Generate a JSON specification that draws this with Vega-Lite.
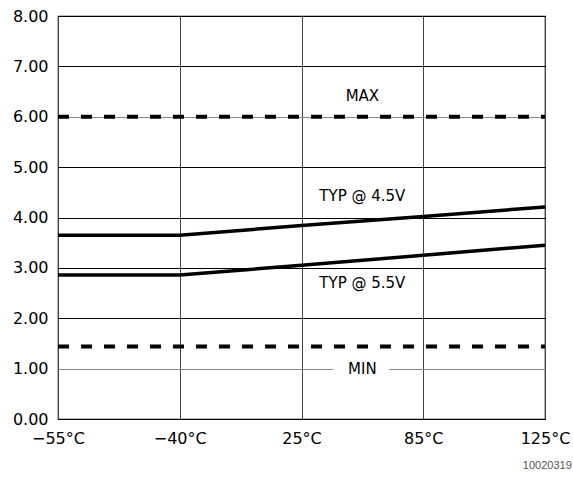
{
  "$schema": "https://vega.github.io/schema/vega-lite/v6.json",
  "width": 487,
  "height": 403,
  "autosize": "none",
  "padding": {"left": 58, "top": 16, "right": 28, "bottom": 61},
  "background": "white",
  "config": {
    "view": {"stroke": "black", "strokeWidth": 1.2},
    "font": "DejaVu Sans"
  },
  "datasets": {
    "curves": [
      {"slot": 0, "v": 3.65, "series": "TYP @ 4.5V"},
      {"slot": 1, "v": 3.65, "series": "TYP @ 4.5V"},
      {"slot": 2, "v": 3.84, "series": "TYP @ 4.5V"},
      {"slot": 3, "v": 4.02, "series": "TYP @ 4.5V"},
      {"slot": 4, "v": 4.21, "series": "TYP @ 4.5V"},
      {"slot": 0, "v": 2.86, "series": "TYP @ 5.5V"},
      {"slot": 1, "v": 2.86, "series": "TYP @ 5.5V"},
      {"slot": 2, "v": 3.05, "series": "TYP @ 5.5V"},
      {"slot": 3, "v": 3.25, "series": "TYP @ 5.5V"},
      {"slot": 4, "v": 3.45, "series": "TYP @ 5.5V"}
    ],
    "limits": [
      {"slot": 0, "v": 6.0, "series": "MAX"},
      {"slot": 4, "v": 6.0, "series": "MAX"},
      {"slot": 0, "v": 1.44, "series": "MIN"},
      {"slot": 4, "v": 1.44, "series": "MIN"}
    ],
    "labels": [
      {"slot": 2.5, "v": 6.42, "text": "MAX"},
      {"slot": 2.5, "v": 4.42, "text": "TYP @ 4.5V"},
      {"slot": 2.5, "v": 2.7, "text": "TYP @ 5.5V"},
      {"slot": 2.5, "v": 1.0, "text": "MIN"}
    ],
    "note": [
      {"slot": 4.22, "v": -0.93, "text": "10020319"}
    ],
    "gap": [
      {"x0": 2.26, "x1": 2.72, "y0": 0.9, "y1": 1.1}
    ]
  },
  "layer": [
    {
      "data": {"name": "curves"},
      "mark": {"type": "line", "color": "black", "strokeWidth": 3.5, "strokeCap": "butt"},
      "encoding": {
        "x": {
          "field": "slot",
          "type": "quantitative",
          "scale": {"domain": [0, 4], "nice": false, "zero": false},
          "axis": {
            "title": null,
            "values": [0, 1, 2, 3, 4],
            "labelExpr": "['−55°C','−40°C','25°C','85°C','125°C'][datum.value]",
            "labelFontSize": 16,
            "labelColor": "black",
            "labelPadding": 11,
            "ticks": false,
            "domain": false,
            "grid": true,
            "gridColor": "#444",
            "gridWidth": 1,
            "gridOpacity": 1,
            "labelFlush": false
          }
        },
        "y": {
          "field": "v",
          "type": "quantitative",
          "scale": {"domain": [0, 8], "nice": false},
          "axis": {
            "title": null,
            "values": [0, 1, 2, 3, 4, 5, 6, 7, 8],
            "format": ".2f",
            "labelFontSize": 16,
            "labelColor": "black",
            "labelPadding": 10,
            "ticks": false,
            "domain": false,
            "grid": true,
            "gridColor": {"condition": {"test": "datum.value === 1 || datum.value === 6", "value": "#888"}, "value": "black"},
            "gridWidth": 1.2,
            "gridOpacity": 1
          }
        },
        "detail": {"field": "series"}
      }
    },
    {
      "data": {"name": "limits"},
      "mark": {"type": "line", "color": "black", "strokeWidth": 4, "strokeDash": [11, 12]},
      "encoding": {
        "x": {"field": "slot", "type": "quantitative"},
        "y": {"field": "v", "type": "quantitative"},
        "detail": {"field": "series"}
      }
    },
    {
      "data": {"name": "gap"},
      "mark": {"type": "rect", "color": "white"},
      "encoding": {
        "x": {"field": "x0", "type": "quantitative"},
        "x2": {"field": "x1"},
        "y": {"field": "y0", "type": "quantitative"},
        "y2": {"field": "y1"}
      }
    },
    {
      "data": {"name": "labels"},
      "mark": {"type": "text", "color": "black", "fontSize": 15, "align": "center", "baseline": "middle"},
      "encoding": {
        "x": {"field": "slot", "type": "quantitative"},
        "y": {"field": "v", "type": "quantitative"},
        "text": {"field": "text"}
      }
    },
    {
      "data": {"name": "note"},
      "mark": {"type": "text", "color": "#555", "font": "Liberation Sans", "fontSize": 11, "align": "right", "baseline": "middle", "clip": false},
      "encoding": {
        "x": {"field": "slot", "type": "quantitative"},
        "y": {"field": "v", "type": "quantitative"},
        "text": {"field": "text"}
      }
    }
  ]
}
